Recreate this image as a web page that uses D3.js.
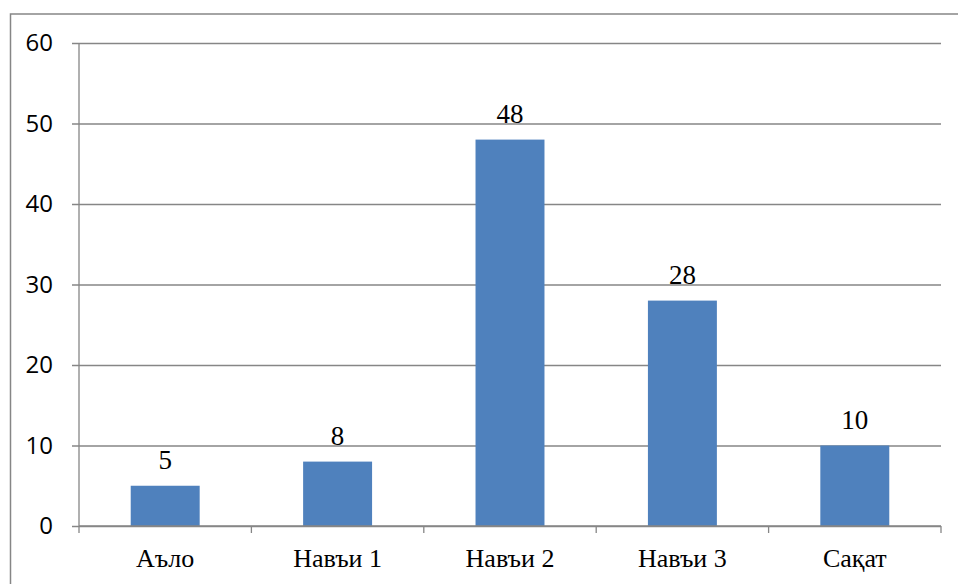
<!DOCTYPE html>
<html>
<head>
<meta charset="utf-8">
<script src="https://cdn.jsdelivr.net/npm/d3@7"></script>
<style>
  body { margin: 0; background: #fff; }
</style>
</head>
<body>
<div id="chart"></div>
<script>
const categories = ['Аъло', 'Навъи 1', 'Навъи 2', 'Навъи 3', 'Сақат'];
const values = [5, 8, 48, 28, 10];
const yTicks = [0, 10, 20, 30, 40, 50, 60];

const width = 958;
const height = 584;
const margin = { top: 43, right: 17, bottom: 58, left: 79 };
const innerW = width - margin.left - margin.right;
const innerH = height - margin.top - margin.bottom;

const svg = d3.select('#chart')
  .append('svg')
  .attr('width', width)
  .attr('height', height);

// outer chart frame (runs off the right and bottom edges)
svg.append('rect')
  .attr('x', 10.5)
  .attr('y', 14)
  .attr('width', 960)
  .attr('height', 600)
  .attr('fill', 'none')
  .attr('stroke', '#868686')
  .attr('stroke-width', 1.5);

const g = svg.append('g')
  .attr('transform', `translate(${margin.left},${margin.top})`);

const x = d3.scaleBand()
  .domain(categories)
  .range([0, innerW])
  .paddingInner(0.6)
  .paddingOuter(0.3);

const y = d3.scaleLinear()
  .domain([0, 60])
  .range([innerH, 0]);

// gridlines + y ticks
g.append('g')
  .attr('transform', 'translate(-7,0)')
  .call(d3.axisLeft(y).tickValues(yTicks).tickSize(-innerW - 7).tickPadding(19).tickFormat(d3.format('d')))
  .call(a => a.select('.domain').remove())
  .call(a => a.selectAll('.tick line')
    .attr('stroke', '#868686').attr('stroke-width', 1.3))
  .call(a => a.selectAll('.tick text')
    .style('font-family', '"Open Sans", "Liberation Sans", sans-serif')
    .style('font-size', '24px')
    .attr('fill', '#000'));

// y axis line
g.append('line')
  .attr('x1', 0).attr('x2', 0)
  .attr('y1', 0).attr('y2', innerH)
  .attr('stroke', '#868686').attr('stroke-width', 1.3);

// bars
g.selectAll('.bar')
  .data(values)
  .enter().append('rect')
  .attr('class', 'bar')
  .attr('x', (d, i) => x(categories[i]))
  .attr('y', d => y(d))
  .attr('width', x.bandwidth())
  .attr('height', d => innerH - y(d))
  .attr('fill', '#4F81BD');

// data labels
g.selectAll('.label')
  .data(values)
  .enter().append('text')
  .attr('x', (d, i) => x(categories[i]) + x.bandwidth() / 2)
  .attr('y', d => y(d) - 17)
  .attr('text-anchor', 'middle')
  .style('font-family', '"Liberation Serif", "Times New Roman", serif')
  .style('font-size', '27px')
  .attr('fill', '#000')
  .text(d => d);

// x axis with boundary ticks
const step = innerW / categories.length;
const xAxis = g.append('g').attr('transform', `translate(0,${innerH})`);
xAxis.append('line')
  .attr('x1', 0).attr('x2', innerW)
  .attr('stroke', '#868686').attr('stroke-width', 1.3);
xAxis.selectAll('.xtick')
  .data(d3.range(categories.length + 1))
  .enter().append('line')
  .attr('x1', i => i * step).attr('x2', i => i * step)
  .attr('y1', 0).attr('y2', 7)
  .attr('stroke', '#868686').attr('stroke-width', 1.3);
xAxis.selectAll('.xlabel')
  .data(categories)
  .enter().append('text')
  .attr('x', d => x(d) + x.bandwidth() / 2)
  .attr('y', 41)
  .attr('text-anchor', 'middle')
  .style('font-family', '"Liberation Serif", "Times New Roman", serif')
  .style('font-size', '26px')
  .attr('fill', '#000')
  .text(d => d);
</script>
</body>
</html>
